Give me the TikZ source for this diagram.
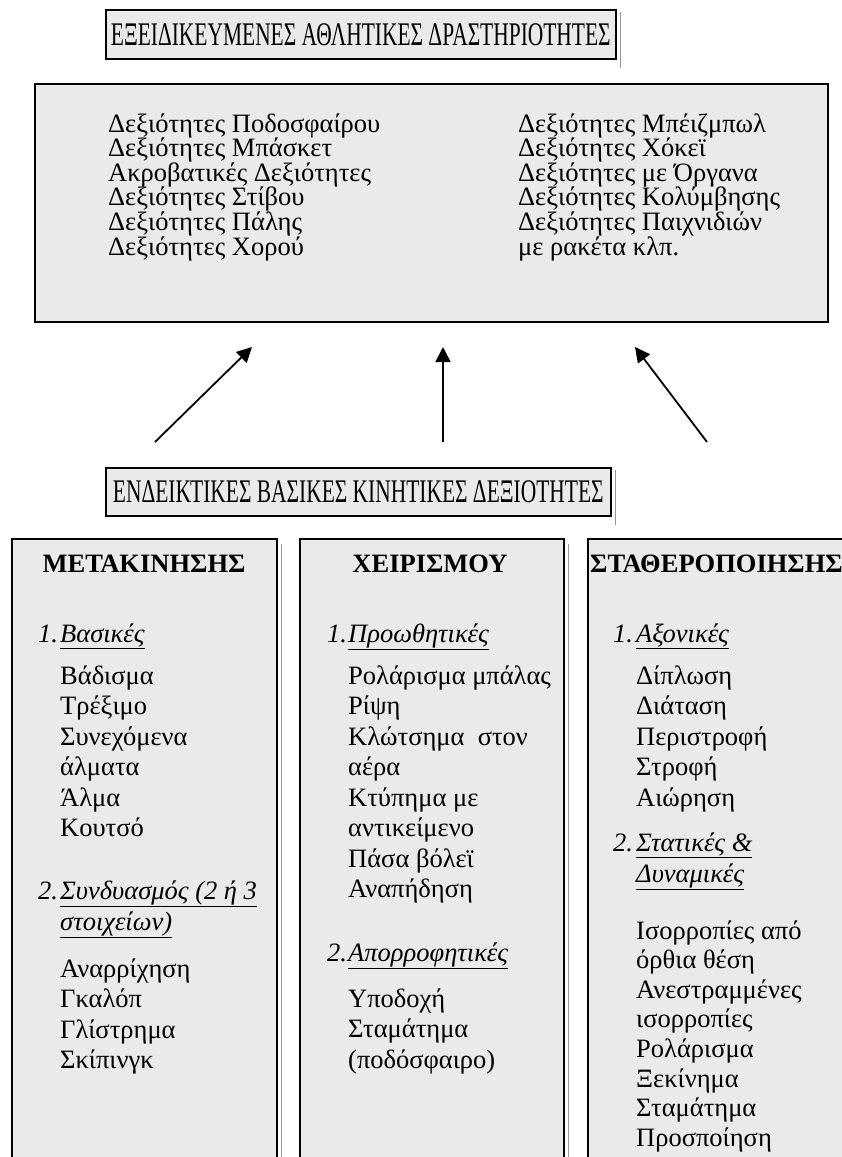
\documentclass[tikz,border=0pt]{standalone}
\usepackage{fontspec}
\setmainfont{Liberation Serif}
\newfontfamily\titlefont[FakeStretch=0.65]{Liberation Serif}
\usetikzlibrary{arrows.meta}
\definecolor{boxgray}{RGB}{234,234,234}
\definecolor{shadowgray}{RGB}{150,150,150}
\begin{document}
\begin{tikzpicture}[x=1pt,y=-1pt,
  box/.style={draw=black, line width=1.6pt, fill=boxgray, inner sep=0pt, anchor=north west},
  titlebox/.style={box, font=\titlefont\fontsize{33}{33}\selectfont},
  shadowline/.style={draw=shadowgray, line width=1.5pt},
  txt/.style={inner sep=0pt, anchor=base west, font=\fontsize{26.5}{26.5}\selectfont},
  head/.style={txt, font=\fontsize{26.5}{26.5}\selectfont\bfseries},
  arr/.style={line width=1.8pt, -{Triangle[length=15pt,width=15pt]}}]
\useasboundingbox (0,0) rectangle (842,1157);

% title boxes
\node[titlebox, minimum width=510pt, minimum height=49pt] (t1) at (105,9) {ΕΞΕΙΔΙΚΕΥΜΕΝΕΣ ΑΘΛΗΤΙΚΕΣ ΔΡΑΣΤΗΡΙΟΤΗΤΕΣ};
\draw[shadowline] ([shift={(4,3)}]t1.north east) -- ([shift={(4,8)}]t1.south east);

\node[box, minimum width=793pt, minimum height=238pt] (top) at (34,83) {};

\foreach \t [count=\i from 0] in {Δεξιότητες Ποδοσφαίρου, Δεξιότητες Μπάσκετ, Ακροβατικές Δεξιότητες, Δεξιότητες Στίβου, Δεξιότητες Πάλης, Δεξιότητες Χορού}
  \node[txt] (tl\i) at (108,132+24.6*\i) {\t};
\foreach \t [count=\i from 0] in {Δεξιότητες Μπέιζμπωλ, Δεξιότητες Χόκεϊ, Δεξιότητες με Όργανα, Δεξιότητες Κολύμβησης, Δεξιότητες Παιχνιδιών, με ρακέτα κλπ.}
  \node[txt] (tr\i) at (518,132+24.6*\i) {\t};

% arrows
\coordinate (a1s) at (155,442); \coordinate (a1e) at (252,347);
\coordinate (a2s) at (443,442); \coordinate (a2e) at (443,347);
\coordinate (a3s) at (707,442); \coordinate (a3e) at (635,347);
\draw[arr] (a1s) -- (a1e);
\draw[arr] (a2s) -- (a2e);
\draw[arr] (a3s) -- (a3e);

\node[titlebox, minimum width=505pt, minimum height=48pt] (t2) at (105,467) {ΕΝΔΕΙΚΤΙΚΕΣ ΒΑΣΙΚΕΣ ΚΙΝΗΤΙΚΕΣ ΔΕΞΙΟΤΗΤΕΣ};
\draw[shadowline] ([shift={(4,3)}]t2.north east) -- ([shift={(4,8)}]t2.south east);

% bottom boxes
\node[box, minimum width=265pt, minimum height=650pt] (bl) at (11,538) {};
\node[box, minimum width=264pt, minimum height=650pt] (bm) at (299,538) {};
\node[box, minimum width=280pt, minimum height=650pt] (br) at (587,538) {};
\draw[shadowline] ([shift={(4,6)}]bl.north east) -- ([shift={(4,0)}]bl.south east);
\draw[shadowline] ([shift={(4,6)}]bm.north east) -- ([shift={(4,0)}]bm.south east);

% left column
\node[head, anchor=base] (hl) at (144,572) {ΜΕΤΑΚΙΝΗΣΗΣ};
\node[txt] (l1n) at (38,642) {\itshape 1.};
\node[txt] (l1) at (60,642) {\itshape\underline{Βασικές}};
\foreach \t [count=\i from 0] in {Βάδισμα, Τρέξιμο, Συνεχόμενα, άλματα, Άλμα, Κουτσό}
  \node[txt] (la\i) at (60,684+30.5*\i) {\t};
\node[txt] (l2n) at (38,899) {\itshape 2.};
\node[txt] (l2) at (60,899) {\itshape\underline{Συνδυασμός (2 ή 3}};
\node[txt] (l2b) at (60,930) {\itshape\underline{στοιχείων)}};
\foreach \t [count=\i from 0] in {Αναρρίχηση, Γκαλόπ, Γλίστρημα, Σκίπινγκ}
  \node[txt] (lb\i) at (60,977+30.5*\i) {\t};

% middle column
\node[head, anchor=base] (hm) at (430,572) {ΧΕΙΡΙΣΜΟΥ};
\node[txt] (m1n) at (327,642) {\itshape 1.};
\node[txt] (m1) at (348,642) {\itshape\underline{Προωθητικές}};
\foreach \t [count=\i from 0] in {Ρολάρισμα μπάλας, Ρίψη, Κλώτσημα\ \ στον, αέρα, Κτύπημα με, αντικείμενο, Πάσα βόλεϊ, Αναπήδηση}
  \node[txt] (ma\i) at (348,684+30.5*\i) {\t};
\node[txt] (m2n) at (327,961) {\itshape 2.};
\node[txt] (m2) at (348,961) {\itshape\underline{Απορροφητικές}};
\foreach \t [count=\i from 0] in {Υποδοχή, Σταμάτημα, (ποδόσφαιρο)}
  \node[txt] (mb\i) at (348,1007+30.5*\i) {\t};

% right column
\node[head] (hr) at (590,572) {ΣΤΑΘΕΡΟΠΟΙΗΣΗΣ};
\node[txt] (r1n) at (613,642) {\itshape 1.};
\node[txt] (r1) at (636,642) {\itshape\underline{Αξονικές}};
\foreach \t [count=\i from 0] in {Δίπλωση, Διάταση, Περιστροφή, Στροφή, Αιώρηση}
  \node[txt] (ra\i) at (636,684+30.5*\i) {\t};
\node[txt] (r2n) at (613,851) {\itshape 2.};
\node[txt] (r2) at (636,851) {\itshape\underline{Στατικές \&}};
\node[txt] (r2b) at (636,882) {\itshape\underline{Δυναμικές}};
\foreach \t [count=\i from 0] in {Ισορροπίες από, όρθια θέση, Ανεστραμμένες, ισορροπίες, Ρολάρισμα, Ξεκίνημα, Σταμάτημα, Προσποίηση}
  \node[txt] (rb\i) at (636,939+29.6*\i) {\t};
\end{tikzpicture}
\end{document}
